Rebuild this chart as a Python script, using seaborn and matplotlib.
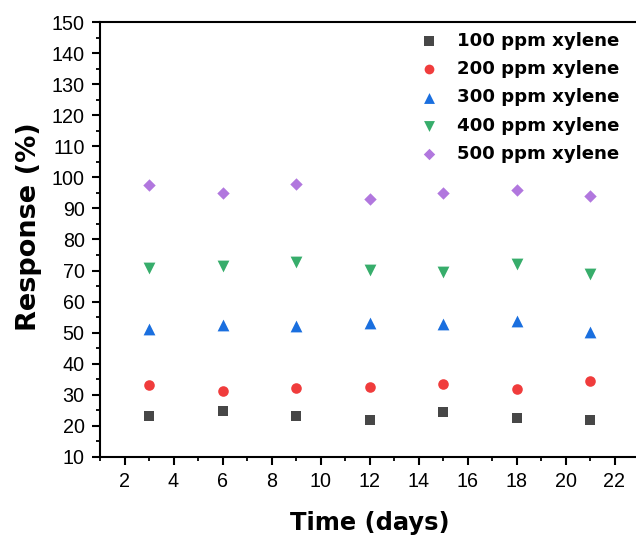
import numpy as np
import pandas as pd
import matplotlib
matplotlib.use("Agg")
import matplotlib.pyplot as plt
from matplotlib.ticker import MultipleLocator
import seaborn as sns

# Measurement days and responses for each xylene concentration
days = [3, 6, 9, 12, 15, 18, 21]
resp_100 = [23.1, 24.8, 23.1, 21.8, 24.5, 22.4, 21.9]
resp_200 = [33.1, 31.4, 32.1, 32.6, 33.4, 32.0, 34.3]
resp_300 = [51.3, 52.4, 52.1, 53.2, 52.7, 53.7, 50.3]
resp_400 = [70.7, 71.6, 72.6, 70.3, 69.5, 72.1, 69.0]
resp_500 = [97.4, 95.0, 98.0, 93.0, 95.0, 95.9, 94.0]

series_labels = ["100 ppm xylene", "200 ppm xylene", "300 ppm xylene",
                 "400 ppm xylene", "500 ppm xylene"]
series_values = [resp_100, resp_200, resp_300, resp_400, resp_500]
colors = ["#474747", "#f03c3c", "#1a6fdf", "#37ad6b", "#b177de"]
markers = ["s", "o", "^", "v", "D"]
sizes = [50, 58, 72, 72, 40]

df = pd.DataFrame({
    "Time": np.tile(days, len(series_labels)),
    "Response": np.concatenate(series_values),
    "Series": np.repeat(series_labels, len(days)),
})

sns.set_theme(style="ticks")
plt.rcParams["font.family"] = ["Liberation Sans", "DejaVu Sans"]
plt.rcParams["text.color"] = "black"
plt.rcParams["axes.labelcolor"] = "black"

fig = plt.figure(figsize=(6.36, 5.41), dpi=100)
ax = fig.add_axes([100 / 636, 84 / 541, 539 / 636, 435 / 541])

for lab, c, m, s in zip(series_labels, colors, markers, sizes):
    sub = df[df["Series"] == lab]
    sns.scatterplot(data=sub, x="Time", y="Response", ax=ax, color=c,
                    marker=m, s=s, linewidth=0, label=lab)

ax.set_xlim(1, 23)
ax.set_ylim(10, 150)
ax.xaxis.set_major_locator(MultipleLocator(2))
ax.xaxis.set_minor_locator(MultipleLocator(1))
ax.yaxis.set_major_locator(MultipleLocator(10))
ax.yaxis.set_minor_locator(MultipleLocator(5))
ax.tick_params(which="major", direction="out", length=6, width=1.5,
               labelsize=14.2, colors="black", labelcolor="black", pad=5)
ax.tick_params(which="minor", direction="out", length=3.2, width=1.3,
               colors="black")
for side in ["left", "bottom", "top", "right"]:
    ax.spines[side].set_linewidth(1.5)
    ax.spines[side].set_color("black")

bold = {"family": "DejaVu Sans", "weight": "bold", "color": "black"}
ax.set_xlabel("Time (days)", fontdict={**bold, "size": 17.4}, labelpad=14)
ax.set_ylabel("Response (%)", fontdict={**bold, "size": 19.5})
ax.yaxis.set_label_coords(-0.107, 0.53)

leg = ax.legend(loc="upper right", bbox_to_anchor=(0.985, 1.005), frameon=False,
                prop={"family": "DejaVu Sans", "weight": "bold", "size": 13.1},
                handletextpad=0.55, labelspacing=0.57, markerscale=0.92,
                borderaxespad=0.25)
for t in leg.get_texts():
    t.set_color("black")

fig.savefig("out.png", dpi=100)
